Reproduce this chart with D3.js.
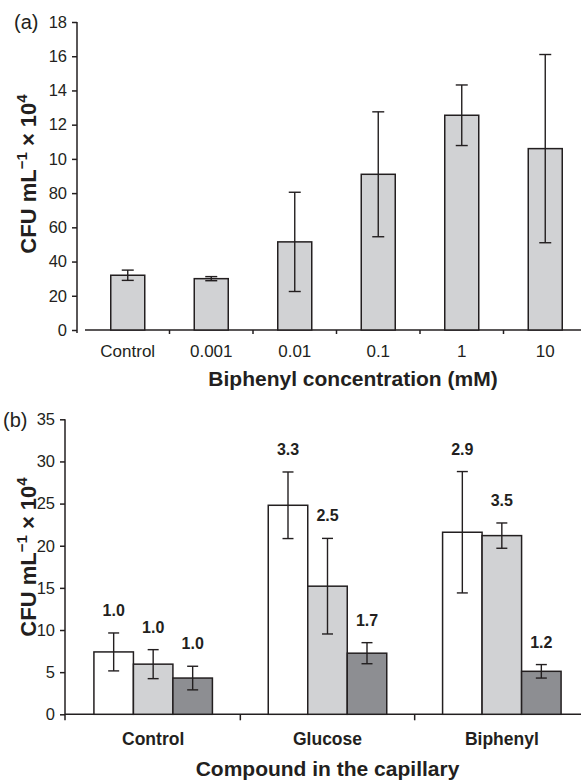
<!DOCTYPE html>
<html>
<head>
<meta charset="utf-8">
<script src="https://cdn.jsdelivr.net/npm/d3@7"></script>
<style>
  html, body { margin: 0; padding: 0; background: #fff; }
  svg { display: block; font-family: "Liberation Sans", Arial, Helvetica, sans-serif; }
</style>
</head>
<body>
<svg id="chart" width="581" height="782"></svg>
<script>
// ---------- Data: panel (a) ----------
const catsA = ["Control", "0.001", "0.01", "0.1", "1", "10"];
const meansA = [32, 30, 51.5, 91, 125.5, 106];
const errsA = [3, 1.2, 29, 36.5, 17.7, 55];
const yTicksA = [0, 20, 40, 60, 80, 100, 120, 140, 160, 180];
const yTickLabelsA = ["0", "20", "40", "60", "80", "10", "12", "14", "16", "18"];

// ---------- Data: panel (b) ----------
const catsB = ["Control", "Glucose", "Biphenyl"];
const seriesB = ["Series 1", "Series 2", "Series 3"];
const meansB1 = [7.4, 24.8, 21.6];
const errsB1 = [2.25, 3.95, 7.2];
const labelsB1 = ["1.0", "3.3", "2.9"];
const meansB2 = [5.95, 15.2, 21.2];
const errsB2 = [1.72, 5.67, 1.5];
const labelsB2 = ["1.0", "2.5", "3.5"];
const meansB3 = [4.3, 7.25, 5.1];
const errsB3 = [1.4, 1.25, 0.8];
const labelsB3 = ["1.0", "1.7", "1.2"];
const yTicksB = [0, 5, 10, 15, 20, 25, 30, 35];

const ink = "#231f20";
const fillsB = ["#ffffff", "#d1d2d4", "#8d8e92"];

const svg = d3.select("#chart");

function yTitle(g, x, y) {
  const t = g.append("text")
    .attr("transform", `translate(${x},${y}) rotate(-90)`)
    .attr("text-anchor", "middle")
    .attr("font-weight", "bold")
    .attr("font-size", 22)
    .attr("fill", ink);
  t.append("tspan").text("CFU mL");
  t.append("tspan").attr("font-size", 15).attr("dy", -9).text("\u22121");
  t.append("tspan").attr("dy", 9).text(" \u00d7 10");
  t.append("tspan").attr("font-size", 15).attr("dy", -9).text("4");
}

function styleAxis(g) {
  g.select(".domain").remove();
  g.selectAll(".tick line").attr("stroke", ink).attr("stroke-width", 1.5);
  g.selectAll(".tick text").attr("fill", ink).attr("font-size", 16.5).attr("font-family", "inherit");
}

// ================= Panel (a) =================
{
  const x = d3.scaleBand().domain(catsA).range([86, 587]).padding(0);
  const y = d3.scaleLinear().domain([0, 180]).range([330, 22]);
  const barW = 34;
  const g = svg.append("g");

  const ax = g.append("g").attr("transform", "translate(77,0)")
    .call(d3.axisLeft(y).tickValues(yTicksA).tickSize(5).tickPadding(5)
      .tickFormat((d, i) => yTickLabelsA[i]));
  styleAxis(ax);

  g.append("line").attr("x1", 77).attr("x2", 77).attr("y1", y(180)).attr("y2", y(0) + 3)
    .attr("stroke", ink).attr("stroke-width", 1.5);
  g.append("line").attr("x1", 85).attr("x2", 590).attr("y1", y(0)).attr("y2", y(0))
    .attr("stroke", ink).attr("stroke-width", 1.5);

  g.selectAll(".bt").data(catsA.slice(1)).join("line")
    .attr("x1", d => x(d)).attr("x2", d => x(d))
    .attr("y1", y(0)).attr("y2", y(0) + 4)
    .attr("stroke", ink).attr("stroke-width", 1.5);

  g.selectAll(".bar").data(catsA).join("rect")
    .attr("x", d => x(d) + (x.bandwidth() - barW) / 2)
    .attr("width", barW)
    .attr("y", (d, i) => y(meansA[i]))
    .attr("height", (d, i) => y(0) - y(meansA[i]))
    .attr("fill", "#d1d2d4").attr("stroke", ink).attr("stroke-width", 1.5);

  catsA.forEach((c, i) => {
    const cx = x(c) + x.bandwidth() / 2;
    const t = y(meansA[i] + errsA[i]), b = y(meansA[i] - errsA[i]);
    g.append("line").attr("x1", cx).attr("x2", cx).attr("y1", t).attr("y2", b).attr("stroke", ink).attr("stroke-width", 1.4);
    g.append("line").attr("x1", cx - 6).attr("x2", cx + 6).attr("y1", t).attr("y2", t).attr("stroke", ink).attr("stroke-width", 1.4);
    g.append("line").attr("x1", cx - 6).attr("x2", cx + 6).attr("y1", b).attr("y2", b).attr("stroke", ink).attr("stroke-width", 1.4);
  });

  g.selectAll(".cl").data(catsA).join("text")
    .attr("x", d => x(d) + x.bandwidth() / 2).attr("y", 357)
    .attr("text-anchor", "middle").attr("font-size", 17).attr("fill", ink)
    .text(d => d);

  g.append("text").attr("x", 353).attr("y", 386).attr("text-anchor", "middle")
    .attr("font-size", 21).attr("font-weight", "bold").attr("fill", ink)
    .text("Biphenyl concentration (mM)");

  yTitle(g, 36, 174);

  g.append("text").attr("x", 14).attr("y", 29).attr("font-size", 20).attr("fill", ink).text("(a)");
}

// ================= Panel (b) =================
{
  const x = d3.scaleBand().domain(catsB).range([66, 589]).padding(0);
  const groupW = 118.5;
  const xs = d3.scaleBand().domain(seriesB).range([0, groupW]).padding(0);
  const y = d3.scaleLinear().domain([0, 35]).range([714.3, 419.3]);
  const g = svg.append("g");

  const ax = g.append("g").attr("transform", "translate(65,0)")
    .call(d3.axisLeft(y).tickValues(yTicksB).tickSize(5).tickPadding(5));
  styleAxis(ax);

  g.append("line").attr("x1", 65).attr("x2", 65).attr("y1", y(35)).attr("y2", y(0) + 6)
    .attr("stroke", ink).attr("stroke-width", 1.5);
  g.append("line").attr("x1", 65).attr("x2", 590).attr("y1", y(0)).attr("y2", y(0))
    .attr("stroke", ink).attr("stroke-width", 1.5);

  g.selectAll(".bt").data(catsB.slice(1)).join("line")
    .attr("x1", d => x(d)).attr("x2", d => x(d))
    .attr("y1", y(0)).attr("y2", y(0) + 6)
    .attr("stroke", ink).attr("stroke-width", 1.5);

  const series = [
    { name: seriesB[0], means: meansB1, errs: errsB1, labels: labelsB1, fill: fillsB[0] },
    { name: seriesB[1], means: meansB2, errs: errsB2, labels: labelsB2, fill: fillsB[1] },
    { name: seriesB[2], means: meansB3, errs: errsB3, labels: labelsB3, fill: fillsB[2] }
  ];

  catsB.forEach((c, ci) => {
    const gx = x(c) + (x.bandwidth() - groupW) / 2;
    series.forEach(s => {
      const bx = gx + xs(s.name);
      g.append("rect").attr("x", bx).attr("width", xs.bandwidth())
        .attr("y", y(s.means[ci])).attr("height", y(0) - y(s.means[ci]))
        .attr("fill", s.fill).attr("stroke", ink).attr("stroke-width", 1.5);
    });
    series.forEach(s => {
      const cx = gx + xs(s.name) + xs.bandwidth() / 2;
      const t = y(s.means[ci] + s.errs[ci]), b = y(s.means[ci] - s.errs[ci]);
      g.append("line").attr("x1", cx).attr("x2", cx).attr("y1", t).attr("y2", b).attr("stroke", ink).attr("stroke-width", 1.4);
      g.append("line").attr("x1", cx - 5.5).attr("x2", cx + 5.5).attr("y1", t).attr("y2", t).attr("stroke", ink).attr("stroke-width", 1.4);
      g.append("line").attr("x1", cx - 5.5).attr("x2", cx + 5.5).attr("y1", b).attr("y2", b).attr("stroke", ink).attr("stroke-width", 1.4);
      g.append("text").attr("x", cx).attr("y", t - 17).attr("text-anchor", "middle")
        .attr("font-size", 16).attr("font-weight", "bold").attr("fill", ink)
        .text(s.labels[ci]);
    });
  });

  g.selectAll(".cl").data(catsB).join("text")
    .attr("x", d => x(d) + x.bandwidth() / 2).attr("y", 745)
    .attr("text-anchor", "middle").attr("font-size", 17.5).attr("font-weight", "bold").attr("fill", ink)
    .text(d => d);

  g.append("text").attr("x", 327.5).attr("y", 776).attr("text-anchor", "middle")
    .attr("font-size", 21).attr("font-weight", "bold").attr("fill", ink)
    .text("Compound in the capillary");

  yTitle(g, 36, 557);

  g.append("text").attr("x", 3).attr("y", 427).attr("font-size", 20).attr("fill", ink).text("(b)");
}
</script>
</body>
</html>
